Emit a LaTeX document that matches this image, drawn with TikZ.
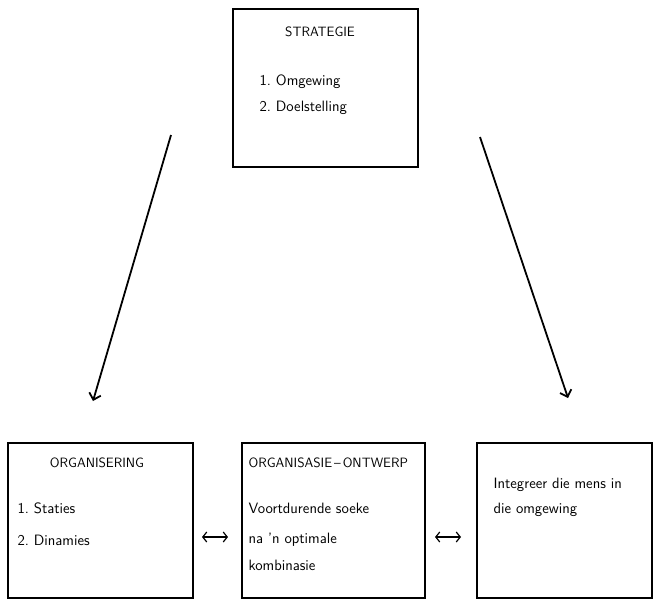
\documentclass[tikz,border=0pt]{standalone}
\usepackage{tikz}
\usetikzlibrary{arrows.meta}

\begin{document}
\begin{tikzpicture}[%
        x = 1pt,
        y = -1pt,
        line width = 1.2pt,
        > = {Straight Barb[length = 6pt, width = 12pt]},
        box/.style = {
            draw,
            line width = 1.4pt,
            minimum height = 155pt,
            inner sep = 0pt
        },
        txt/.style = {
            font = \sffamily\fontsize{15}{17}\selectfont,
            inner sep = 0pt
        },
        title/.style = {
            txt,
            font = \sffamily\fontsize{13.5}{16}\selectfont
        },
        item/.style = {
            txt,
            anchor = west
        }
    ]

        % Fix the page to the size of the reference.
        \useasboundingbox (0, 0) rectangle (656, 605);

        % The four boxes.
        \node[box, minimum width = 185pt, minimum height = 158pt] (strategie) at (325.5, 88.0) {};
        \node[box, minimum width = 185pt] (organisering) at (100.5, 520.5) {};
        \node[box, minimum width = 183pt] (ontwerp) at (333.5, 520.5) {};
        \node[box, minimum width = 175pt] (integreer) at (564.5, 520.5) {};

        % Texts in the top box.
        \node[title] (strategietitel) at (320, 32) {STRATEGIE};
        \node[item] (omgewing) at (259, 82) {1.\ Omgewing};
        \node[item] (doelstelling) at (259, 108) {2.\ Doelstelling};

        % Texts in the bottom left box.
        \node[title] (organiseringtitel) at (97, 463) {ORGANISERING};
        \node[item] (staties) at (17, 508) {1.\ Staties};
        \node[item] (dinamies) at (17, 540) {2.\ Dinamies};

        % Texts in the middle box.
        \node[title, anchor = west] (ontwerptitel) at (248, 463) {ORGANISASIE\hspace{2pt}--\hspace{2pt}ONTWERP};
        \node[item] (soeke) at (248, 508) {Voortdurende soeke};
        \node[item] (optimale) at (248, 540) {na 'n optimale};
        \node[item] (kombinasie) at (248, 565) {kombinasie};

        % Texts in the bottom right box.
        \node[item] (mens) at (493, 485) {Integreer die mens in};
        \node[item] (omgewing2) at (493, 510) {die omgewing};

        % Ends of the two long arrows.
        \coordinate (linksbo) at (171, 135);
        \coordinate (linksonder) at (93, 401);
        \coordinate (regsbo) at (480, 137);
        \coordinate (regsonder) at (568, 398);

        \draw[->, line width = 1.8pt] (linksbo) to (linksonder);
        \draw[->, line width = 1.8pt] (regsbo) to (regsonder);

        % The two double arrows between the bottom boxes.
        \coordinate (pyl1a) at (202, 537);
        \coordinate (pyl1b) at (228, 537);
        \coordinate (pyl2a) at (435, 537);
        \coordinate (pyl2b) at (461, 537);

        \draw[<->, > = {Straight Barb[length = 4pt, width = 10pt]}] (pyl1a) to (pyl1b);
        \draw[<->, > = {Straight Barb[length = 4pt, width = 10pt]}] (pyl2a) to (pyl2b);
    \end{tikzpicture}
\end{document}
